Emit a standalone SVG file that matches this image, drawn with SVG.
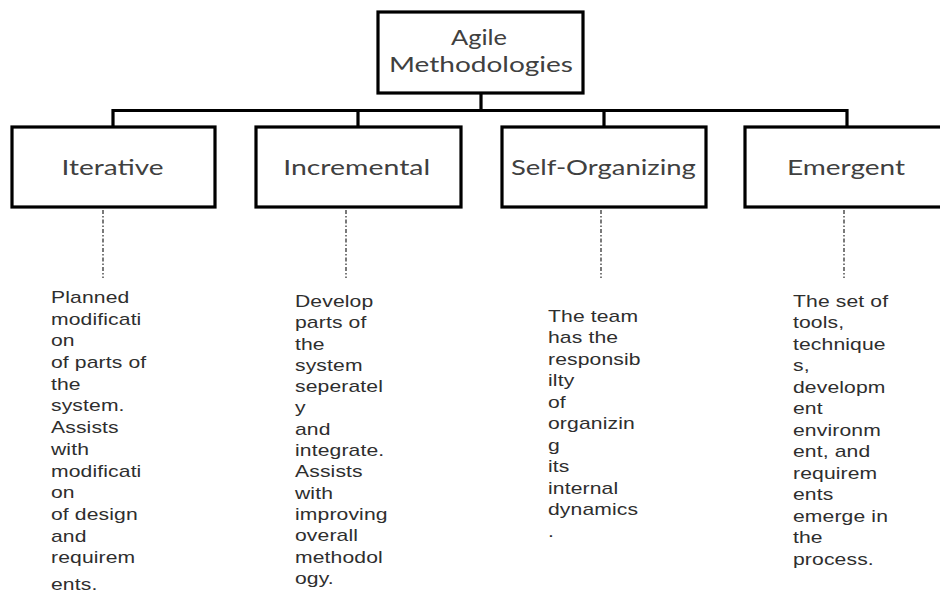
<svg xmlns="http://www.w3.org/2000/svg" width="940" height="594" viewBox="0 0 940 594">
<style>
.box{fill:#fff;stroke:#000;stroke-width:3.2}
.bus{fill:none;stroke:#000;stroke-width:3.2}
.dot{fill:none;stroke:#333;stroke-width:1.3;stroke-dasharray:4 2 1.5 2}
.hd{font-family:Lato,"Open Sans","Liberation Sans",sans-serif;font-size:22px;fill:#404040;text-anchor:middle}
.bd{font-family:"Liberation Sans",Arial,sans-serif;font-size:16px;fill:#2e2e2e;letter-spacing:0.1px}
</style>
<rect width="940" height="594" fill="#fff"/>
<g id="connectors">
<path class="bus" d="M481 93V110.5M113 127V110.5H847V127M358 110.5V127M604 110.5V127"/>
<path class="dot" d="M103 210V278M346 210V278M601 210V278M844 210V278"/>
</g>
<g id="root">
<rect class="box" x="378" y="12" width="205" height="81"/>
<text class="hd" x="479" y="45" textLength="56" lengthAdjust="spacingAndGlyphs">Agile</text>
<text class="hd" x="481" y="72" textLength="184" lengthAdjust="spacingAndGlyphs">Methodologies</text>
</g>
<g id="iterative">
<rect class="box" x="12" y="127" width="203" height="80"/>
<text class="hd" x="112.5" y="175" textLength="102" lengthAdjust="spacingAndGlyphs">Iterative</text>
</g>
<g id="incremental">
<rect class="box" x="256" y="127" width="205" height="80"/>
<text class="hd" x="356.7" y="175" textLength="147" lengthAdjust="spacingAndGlyphs">Incremental</text>
</g>
<g id="self-organizing">
<rect class="box" x="502" y="127" width="204" height="80"/>
<text class="hd" x="603.4" y="175" textLength="185" lengthAdjust="spacingAndGlyphs">Self-Organizing</text>
</g>
<g id="emergent">
<rect class="box" x="745" y="127" width="205" height="80"/>
<text class="hd" x="846" y="175" textLength="118" lengthAdjust="spacingAndGlyphs">Emergent</text>
</g>
<g id="iterative-desc" transform="translate(51,0) scale(1.32,1)">
<text class="bd" x="0" y="303">Planned</text>
<text class="bd" x="0" y="324.7">modificati</text>
<text class="bd" x="0" y="346.4">on</text>
<text class="bd" x="0" y="368.1">of parts of</text>
<text class="bd" x="0" y="389.8">the</text>
<text class="bd" x="0" y="411.5">system.</text>
<text class="bd" x="0" y="433.2">Assists</text>
<text class="bd" x="0" y="454.9">with</text>
<text class="bd" x="0" y="476.6">modificati</text>
<text class="bd" x="0" y="498.3">on</text>
<text class="bd" x="0" y="520">of design</text>
<text class="bd" x="0" y="541.7">and</text>
<text class="bd" x="0" y="563.4">requirem</text>
<text class="bd" x="0" y="590">ents.</text>
</g>
<g id="incremental-desc" transform="translate(295,0) scale(1.32,1)">
<text class="bd" x="0" y="307">Develop</text>
<text class="bd" x="0" y="328.3">parts of</text>
<text class="bd" x="0" y="349.6">the</text>
<text class="bd" x="0" y="370.9">system</text>
<text class="bd" x="0" y="392.2">seperatel</text>
<text class="bd" x="0" y="413.5">y</text>
<text class="bd" x="0" y="434.8">and</text>
<text class="bd" x="0" y="456.1">integrate.</text>
<text class="bd" x="0" y="477.4">Assists</text>
<text class="bd" x="0" y="498.7">with</text>
<text class="bd" x="0" y="520">improving</text>
<text class="bd" x="0" y="541.3">overall</text>
<text class="bd" x="0" y="562.6">methodol</text>
<text class="bd" x="0" y="584.5">ogy.</text>
</g>
<g id="self-organizing-desc" transform="translate(548,0) scale(1.32,1)">
<text class="bd" x="0" y="322">The team</text>
<text class="bd" x="0" y="343.5">has the</text>
<text class="bd" x="0" y="365">responsib</text>
<text class="bd" x="0" y="386.5">ilty</text>
<text class="bd" x="0" y="408">of</text>
<text class="bd" x="0" y="429.5">organizin</text>
<text class="bd" x="0" y="451">g</text>
<text class="bd" x="0" y="472.5">its</text>
<text class="bd" x="0" y="494">internal</text>
<text class="bd" x="0" y="515.5">dynamics</text>
<text class="bd" x="0" y="537">.</text>
</g>
<g id="emergent-desc" transform="translate(793,0) scale(1.32,1)">
<text class="bd" x="0" y="307">The set of</text>
<text class="bd" x="0" y="328.5">tools,</text>
<text class="bd" x="0" y="350">technique</text>
<text class="bd" x="0" y="371.5">s,</text>
<text class="bd" x="0" y="393">developm</text>
<text class="bd" x="0" y="414.5">ent</text>
<text class="bd" x="0" y="436">environm</text>
<text class="bd" x="0" y="457.5">ent, and</text>
<text class="bd" x="0" y="479">requirem</text>
<text class="bd" x="0" y="500.5">ents</text>
<text class="bd" x="0" y="522">emerge in</text>
<text class="bd" x="0" y="543.5">the</text>
<text class="bd" x="0" y="565">process.</text>
</g>
</svg>
